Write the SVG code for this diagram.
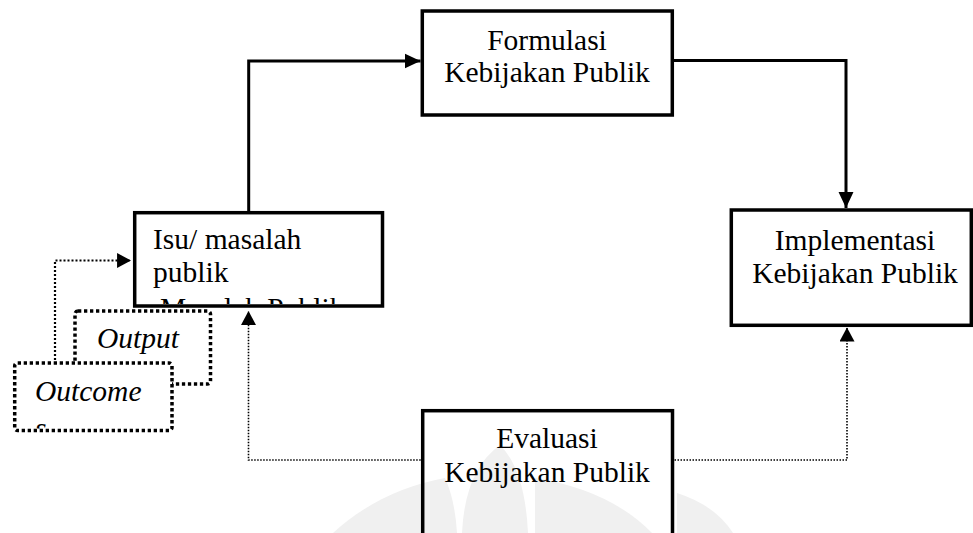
<svg xmlns="http://www.w3.org/2000/svg" width="973" height="533" viewBox="0 0 973 533">
<style>
.box{fill:#fff;stroke:#000;stroke-width:3.5}
.boxo{fill:none;stroke:#000;stroke-width:3.5}
.dbox{fill:#fff;stroke:#000;stroke-width:3.5;stroke-dasharray:3.3 2.7}
.t{font-family:"Liberation Serif","Times New Roman",serif;font-size:29.5px;fill:#000}
.i{font-style:italic}
.solid{fill:none;stroke:#000;stroke-width:3}
.dot{fill:none;stroke:#000;stroke-width:1.6;stroke-dasharray:1.5 1.5}
.dot2{fill:none;stroke:#000;stroke-width:2.2;stroke-dasharray:2 2}
.wm{fill:#f0f0f0}
</style>
<defs>
<marker id="ah" markerUnits="userSpaceOnUse" markerWidth="16" markerHeight="16" viewBox="0 0 15 14" refX="15" refY="7" orient="auto">
<path d="M0,0 L15,7 L0,14 Z" fill="#000"/>
</marker>
<marker id="ahs" markerUnits="userSpaceOnUse" markerWidth="15" markerHeight="15" viewBox="0 0 13 14" refX="13" refY="7" orient="auto">
<path d="M0,0 L13,7 L0,14 Z" fill="#000"/>
</marker>
<clipPath id="cIsu"><rect x="136.5" y="214.5" width="244" height="89.5"/></clipPath>
<clipPath id="cOut"><rect x="16.5" y="364.5" width="153" height="64"/></clipPath>
</defs>
<g id="watermark">
<path class="wm" d="M333,533 Q380,490 445,478 Q455,500 457,533 Z"/>
<path class="wm" d="M462,533 Q465,470 500,445 Q525,470 528,533 Z"/>
<path class="wm" d="M535,533 L535,478 Q610,490 652,533 Z"/>
<path class="wm" d="M677,533 L677,493 Q715,505 733,533 Z"/>
</g>
<g id="connectors">
<path class="solid" d="M248.7,211 V61 H420.5" marker-end="url(#ah)"/>
<path class="solid" d="M674,60.5 H846 V208" marker-end="url(#ah)"/>
<path class="dot" d="M420.7,460 H248.5 V311" marker-end="url(#ahs)"/>
<path class="dot" d="M674.5,460 H847 V327.5" marker-end="url(#ahs)"/>
<path class="dot2" d="M55,360 V260.5 H131" marker-end="url(#ahs)"/>
</g>
<g id="formulasi">
<rect class="box" x="422.3" y="11" width="250" height="104"/>
<text class="t" x="547" y="50" text-anchor="middle">Formulasi</text>
<text class="t" x="547" y="82" text-anchor="middle">Kebijakan Publik</text>
</g>
<g id="isu">
<rect class="box" x="134.7" y="212.7" width="247.8" height="93.3"/>
<g clip-path="url(#cIsu)">
<text class="t" x="153" y="249">Isu/ masalah</text>
<text class="t" x="153" y="282">publik</text>
<text class="t" x="160" y="318">Masalah Publik</text>
</g>
</g>
<g id="implementasi">
<rect class="box" x="731.3" y="210" width="240" height="115.3"/>
<text class="t" x="855" y="250" text-anchor="middle">Implementasi</text>
<text class="t" x="855" y="283" text-anchor="middle">Kebijakan Publik</text>
</g>
<g id="evaluasi">
<rect class="boxo" x="422.7" y="410.7" width="249.8" height="140"/>
<text class="t" x="547" y="448" text-anchor="middle">Evaluasi</text>
<text class="t" x="547" y="482" text-anchor="middle">Kebijakan Publik</text>
</g>
<g id="output">
<rect class="dbox" x="75" y="311" width="135.5" height="73" rx="3"/>
<text class="t i" x="97" y="348">Output</text>
</g>
<g id="outcome">
<rect class="dbox" x="14.7" y="363" width="157.3" height="67.5" rx="3"/>
<g clip-path="url(#cOut)">
<text class="t i" x="35" y="401">Outcome</text>
<text class="t i" x="35" y="438">s</text>
</g>
</g>
</svg>
